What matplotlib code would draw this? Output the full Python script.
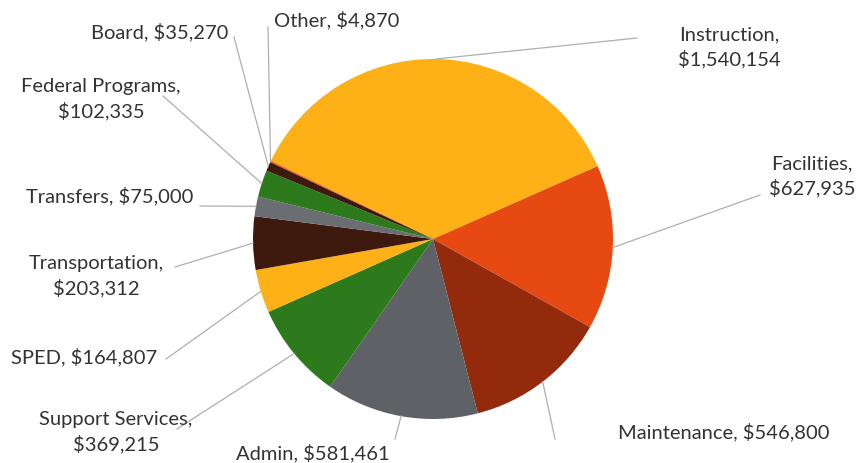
import numpy as np
import matplotlib
matplotlib.use("Agg")
import matplotlib.pyplot as plt

categories = ["Instruction", "Facilities", "Maintenance", "Admin", "Support Services",
              "SPED", "Transportation", "Transfers", "Federal Programs", "Board", "Other"]
values = [1540154, 627935, 546800, 581461, 369215, 164807, 203312, 75000, 102335, 35270, 4870]
label_texts = ["Instruction,\n$1,540,154", "Facilities,\n$627,935", "Maintenance, $546,800",
               "Admin, $581,461", "Support Services,\n$369,215", "SPED, $164,807",
               "Transportation,\n$203,312", "Transfers, $75,000", "Federal Programs,\n$102,335",
               "Board, $35,270", "Other, $4,870"]
colors = ["#FDB116", "#E64A12", "#932A0B", "#5E6166", "#2C7A1C", "#FDB116",
          "#3D1A0D", "#6A6D72", "#2C7A1C", "#3D1A0D", "#E64A12"]

# layout (pixel positions): label text center, leader end point
W, H = 859, 464
CX, CY, R = 433, 240, 180
label_pos = [(729, 47), (812, 176), (724, 432), (313, 453), (116, 432), (84, 357),
             (96, 276), (110, 196), (101, 99), (160, 32), (337, 20)]
leader_end = [(637, 39), (760, 196), (555, 440), (395, 440), (177, 430), (166, 360),
              (175, 268), (200, 207), (163, 97), (234, 38), (268, 28)]

def to_data(p):
    return ((p[0] - CX) / R, (CY - p[1]) / R)

plt.rcParams['font.family'] = ['Lato', 'DejaVu Sans']
fig = plt.figure(figsize=(W / 100, H / 100), dpi=100)
ax = fig.add_axes([0, 0, 1, 1])
start = 154.3
wedges, _ = ax.pie(values, colors=colors, startangle=start, counterclock=False,
                   radius=1.0, center=(0, 0), wedgeprops=dict(linewidth=0))
ax.set_xlim(-CX / R, (W - CX) / R)
ax.set_ylim(-(H - CY) / R, CY / R)
ax.set_aspect('equal')
ax.axis('off')

for i, w in enumerate(wedges):
    mid = np.deg2rad((w.theta1 + w.theta2) / 2)
    sx, sy = np.cos(mid), np.sin(mid)
    ex, ey = to_data(leader_end[i])
    ax.plot([sx, ex], [sy, ey], color="#AFAFAF", lw=0.9, zorder=1)
    tx, ty = to_data(label_pos[i])
    ax.text(tx, ty, label_texts[i], ha='center', va='center', fontsize=14.5,
            color="#333333", linespacing=1.4, multialignment='center')

fig.savefig("out.png", dpi=100)
